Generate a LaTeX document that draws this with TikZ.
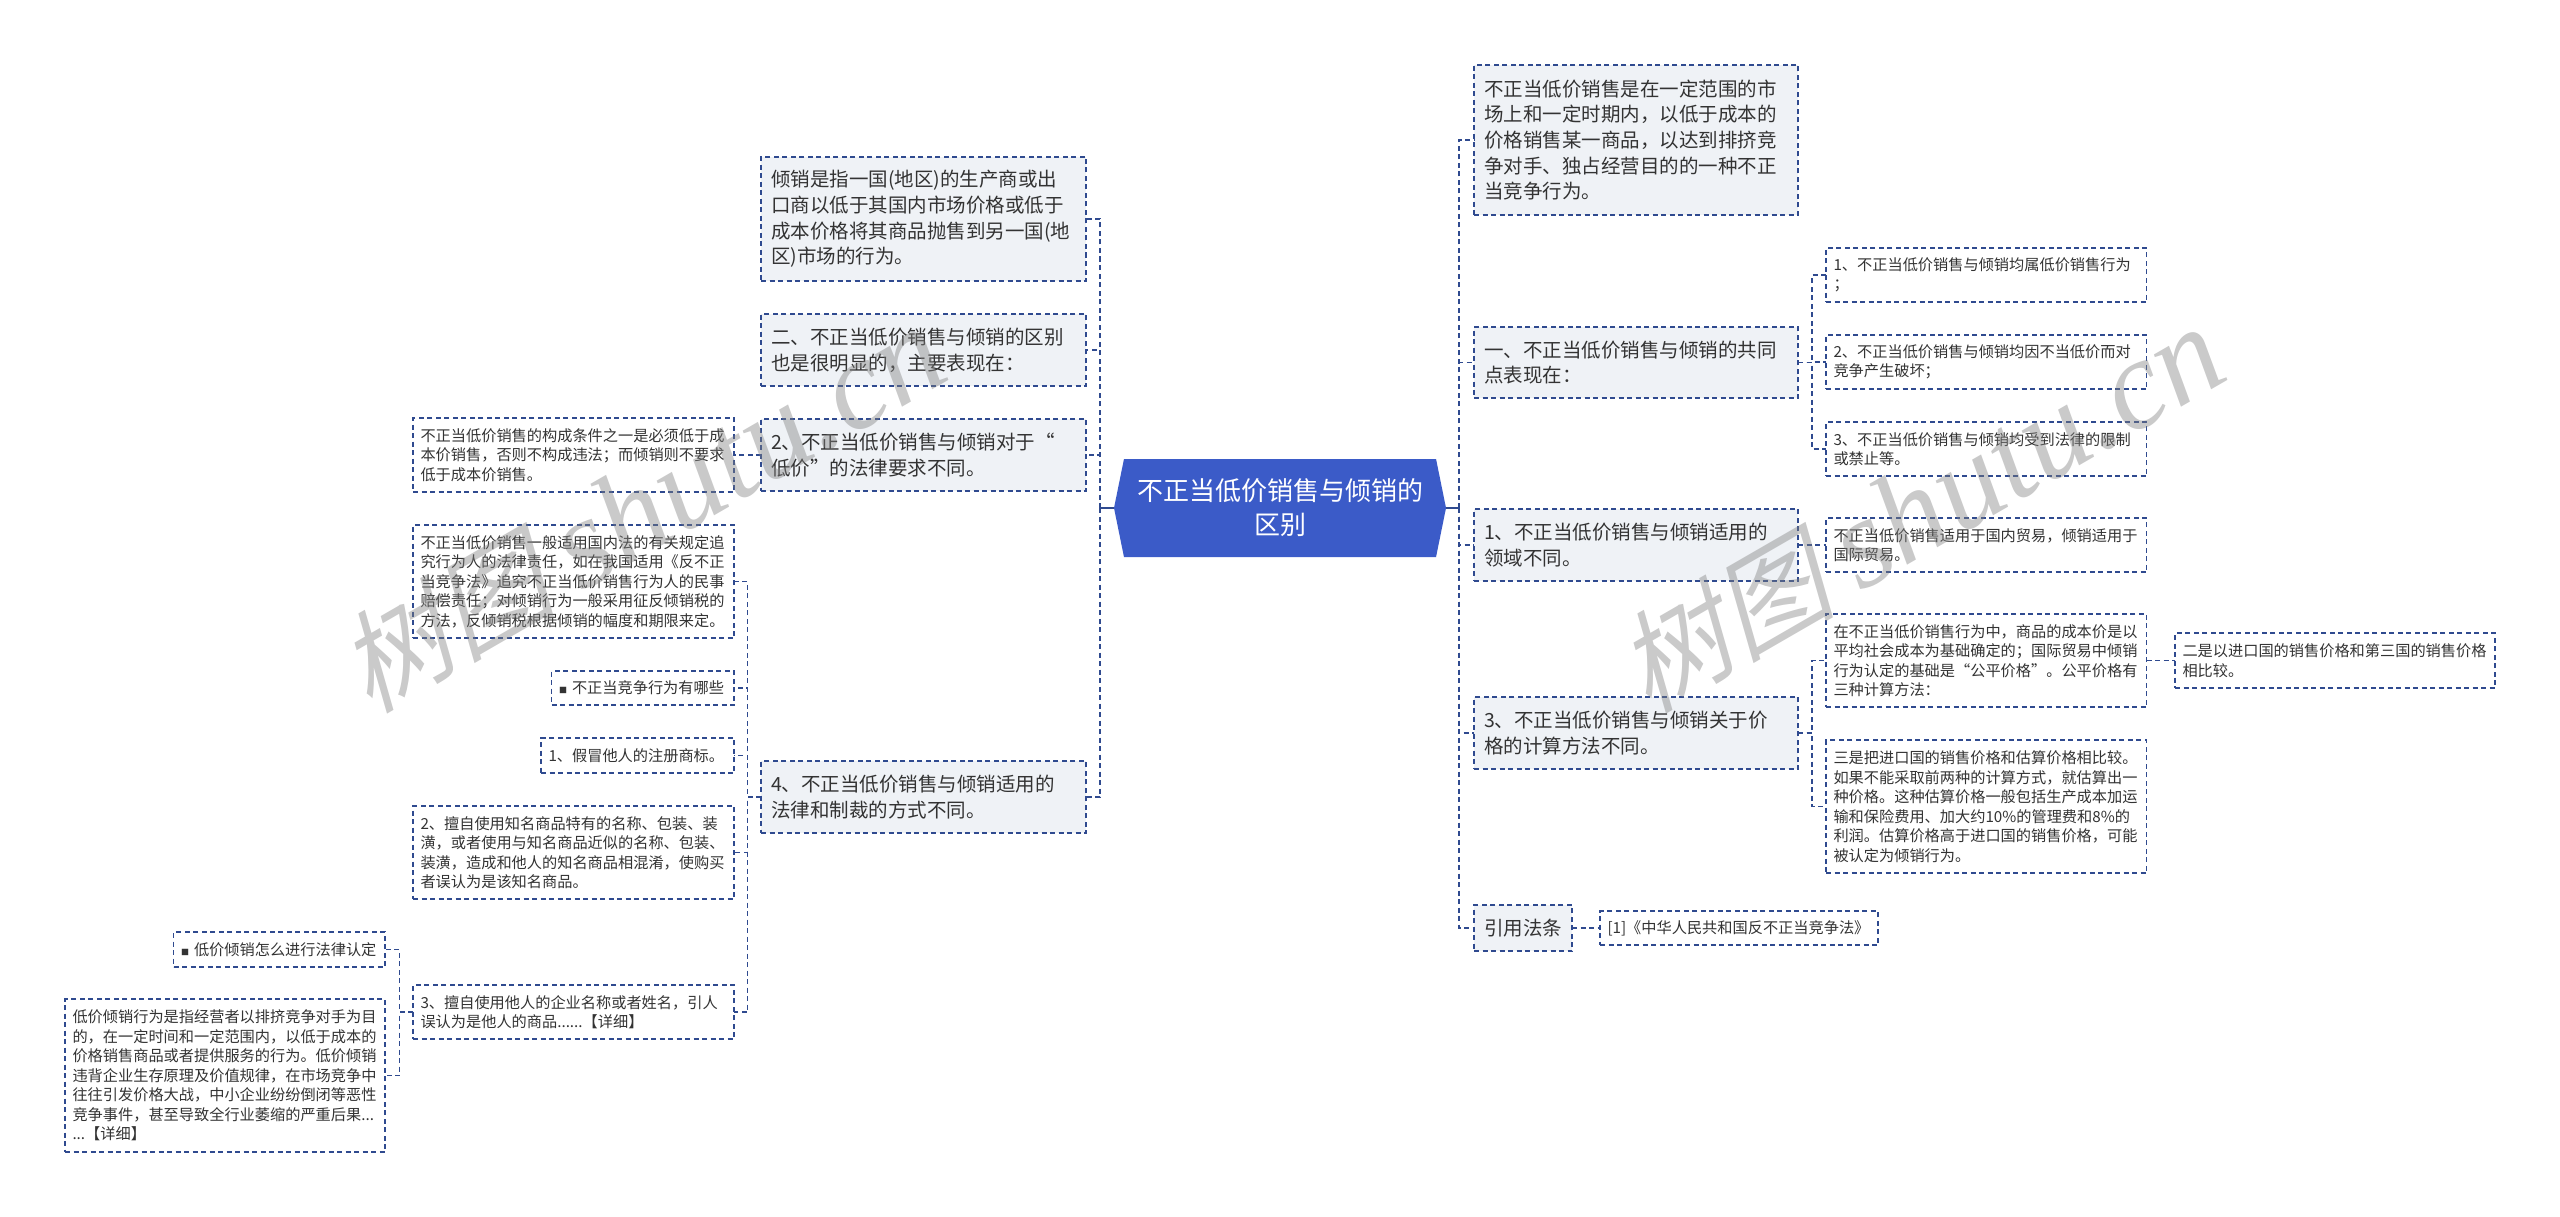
\documentclass[tikz,border=0pt]{standalone}
\usepackage{fontspec}
\setmainfont{Noto Sans CJK SC}
\newfontfamily\markcjk[FakeSlant=0.25]{Noto Sans CJK SC}
\newfontfamily\marklat{Liberation Serif}
\usetikzlibrary{positioning}
\usetikzlibrary{calc}
\usetikzlibrary{shapes.symbols}
\definecolor{nodeblue}{HTML}{3B5BC8}
\definecolor{linkblue}{HTML}{2F4A8F}
\definecolor{paleblue}{HTML}{EFF2F6}
\definecolor{inktext}{HTML}{333333}
\newcommand{\openq}{\makebox[1em][r]{“}}
\newcommand{\closeq}{\makebox[1em][l]{”}}
\newcommand{\smallsq}{{\fontsize{8pt}{8pt}\selectfont ■}\hspace{5pt}}
\tikzset{
    dashbox/.style={draw=linkblue,dash pattern=on 5pt off 3.5pt,line width=1.2pt,rectangle,anchor=north west,inner sep=0pt,outer sep=0pt,text=inktext,align=left},
    topic/.style 2 args={dashbox,fill=paleblue,font=\fontsize{19.5pt}{25.7pt}\selectfont,minimum width=#1,minimum height=#2,text width=#1-20pt},
    leaf/.style 2 args={dashbox,fill=white,font=\fontsize{15.2pt}{19.5pt}\selectfont,minimum width=#1,minimum height=#2,text width=#1-15pt},
    link/.style={draw=linkblue,dash pattern=on 5pt off 3.5pt,line width=1.2pt},
    stem/.style={draw=linkblue,line width=2pt},
    wmark/.style={text=gray,opacity=0.42,rotate=30}
}
\begin{document}
\begin{tikzpicture}[x=1pt,y=-1pt]
    \useasboundingbox (0,0) rectangle (2560,1217);
    % centre
    \node[signal,signal to=west and east,signal pointer angle=157,fill=nodeblue,text=white,align=center,inner sep=0pt,minimum width=332pt,minimum height=98pt,font=\fontsize{26pt}{34pt}\selectfont] (root) at (1280,508) {不正当低价销售与倾销的\\区别};
    \coordinate (lbus) at (1100,508);
    \coordinate (rbus) at (1459,508);
    % left side
    \node[topic={325pt}{124pt}] (dump) at (761,157) {倾销是指一国(地区)的生产商或出\\口商以低于其国内市场价格或低于\\成本价格将其商品抛售到另一国(地\\区)市场的行为。};
    \node[topic={325pt}{72pt}] (diff) at (761,314) {二、不正当低价销售与倾销的区别\\也是很明显的，主要表现在：};
    \node[topic={325pt}{72pt}] (low) at (761,419) {2、不正当低价销售与倾销对于\openq\\低价\closeq 的法律要求不同。};
    \node[topic={325pt}{72pt}] (law) at (761,761) {4、不正当低价销售与倾销适用的\\法律和制裁的方式不同。};
    \node[leaf={321pt}{74pt}] (lowa) at (413,418) {不正当低价销售的构成条件之一是必须低于成\\本价销售，否则不构成违法；而倾销则不要求\\低于成本价销售。};
    \node[leaf={321pt}{113pt}] (lawa) at (413,525) {不正当低价销售一般适用国内法的有关规定追\\究行为人的法律责任，如在我国适用《反不正\\当竞争法》追究不正当低价销售行为人的民事\\赔偿责任；对倾销行为一般采用征反倾销税的\\方法，反倾销税根据倾销的幅度和期限来定。};
    \node[leaf={182.5pt}{34pt}] (lawb) at (551.5,671) {\smallsq 不正当竞争行为有哪些};
    \node[leaf={193pt}{35pt}] (lawc) at (541,738) {1、假冒他人的注册商标。};
    \node[leaf={321pt}{93pt}] (lawd) at (413,806) {2、擅自使用知名商品特有的名称、包装、装\\潢，或者使用与知名商品近似的名称、包装、\\装潢，造成和他人的知名商品相混淆，使购买\\者误认为是该知名商品。};
    \node[leaf={321pt}{54pt}] (lawe) at (413,985) {3、擅自使用他人的企业名称或者姓名，引人\\误认为是他人的商品......【详细】};
    \node[leaf={211.5pt}{35pt}] (lawf) at (173.5,932) {\smallsq 低价倾销怎么进行法律认定};
    \node[leaf={320pt}{153pt}] (lawg) at (65,999) {低价倾销行为是指经营者以排挤竞争对手为目\\的，在一定时间和一定范围内，以低于成本的\\价格销售商品或者提供服务的行为。低价倾销\\违背企业生存原理及价值规律，在市场竞争中\\往往引发价格大战，中小企业纷纷倒闭等恶性\\竞争事件，甚至导致全行业萎缩的严重后果...\\...【详细】};
    % right side
    \node[topic={324pt}{150pt}] (what) at (1474,65) {不正当低价销售是在一定范围的市\\场上和一定时期内，以低于成本的\\价格销售某一商品，以达到排挤竞\\争对手、独占经营目的的一种不正\\当竞争行为。};
    \node[topic={324pt}{71pt}] (same) at (1474,327) {一、不正当低价销售与倾销的共同\\点表现在：};
    \node[topic={324pt}{72pt}] (field) at (1474,509) {1、不正当低价销售与倾销适用的\\领域不同。};
    \node[topic={324pt}{72pt}] (calc) at (1474,697) {3、不正当低价销售与倾销关于价\\格的计算方法不同。};
    \node[topic={98pt}{46pt}] (cite) at (1474,905) {引用法条};
    \node[leaf={320.5pt}{54pt}] (samea) at (1826,248) {1、不正当低价销售与倾销均属低价销售行为\\；};
    \node[leaf={320.5pt}{54pt}] (sameb) at (1826,335) {2、不正当低价销售与倾销均因不当低价而对\\竞争产生破坏；};
    \node[leaf={320.5pt}{54pt}] (samec) at (1826,422) {3、不正当低价销售与倾销均受到法律的限制\\或禁止等。};
    \node[leaf={320.5pt}{54pt}] (fielda) at (1826,518) {不正当低价销售适用于国内贸易，倾销适用于\\国际贸易。};
    \node[leaf={320.5pt}{93pt}] (calca) at (1826,614) {在不正当低价销售行为中，商品的成本价是以\\平均社会成本为基础确定的；国际贸易中倾销\\行为认定的基础是\openq 公平价格\closeq 。公平价格有\\三种计算方法：};
    \node[leaf={320.5pt}{133pt}] (calcb) at (1826,740) {三是把进口国的销售价格和估算价格相比较。\\如果不能采取前两种的计算方式，就估算出一\\种价格。这种估算价格一般包括生产成本加运\\输和保险费用、加大约10\%的管理费和8\%的\\利润。估算价格高于进口国的销售价格，可能\\被认定为倾销行为。};
    \node[leaf={320pt}{55pt}] (calcc) at (2175,633) {二是以进口国的销售价格和第三国的销售价格\\相比较。};
    \node[leaf={278pt}{34pt}] (citea) at (1600,911) {[1]《中华人民共和国反不正当竞争法》};
    % connectors
    \foreach \n in {dump,diff,low,law}
        \draw[link] (lbus) |- (\n.east);
    \foreach \n in {what,same,field,calc,cite}
        \draw[link] (rbus) |- (\n.west);
    \draw[stem] (root.west) -- (lbus);
    \draw[stem] (root.east) -- (rbus);
    \draw[link] (low.west) -- (lowa.east);
    \coordinate (lawbus) at (747.5,797);
    \foreach \n in {lawa,lawb,lawc,lawd,lawe}
        \draw[link] (law.west) -- (lawbus) |- (\n.east);
    \coordinate (lawebus) at (399.5,1012);
    \foreach \n in {lawf,lawg}
        \draw[link] (lawe.west) -- (lawebus) |- (\n.east);
    \coordinate (samebus) at (1812,362.5);
    \foreach \n in {samea,sameb,samec}
        \draw[link] (same.east) -- (samebus) |- (\n.west);
    \draw[link] (field.east) -- (fielda.west);
    \coordinate (calcbus) at (1812,733);
    \foreach \n in {calca,calcb}
        \draw[link] (calc.east) -- (calcbus) |- (\n.west);
    \draw[link] (calca.east) -- (calcc.west);
    \draw[link] (cite.east) -- (citea.west);
    % watermarks
    \node[wmark] (markl) at (641,510) {\fontsize{110pt}{110pt}\markcjk 树图 \fontsize{128pt}{128pt}\marklat\itshape shutu.cn};
    \node[wmark] (markr) at (1920,510) {\fontsize{110pt}{110pt}\markcjk 树图 \fontsize{128pt}{128pt}\marklat\itshape shutu.cn};
\end{tikzpicture}
\end{document}
